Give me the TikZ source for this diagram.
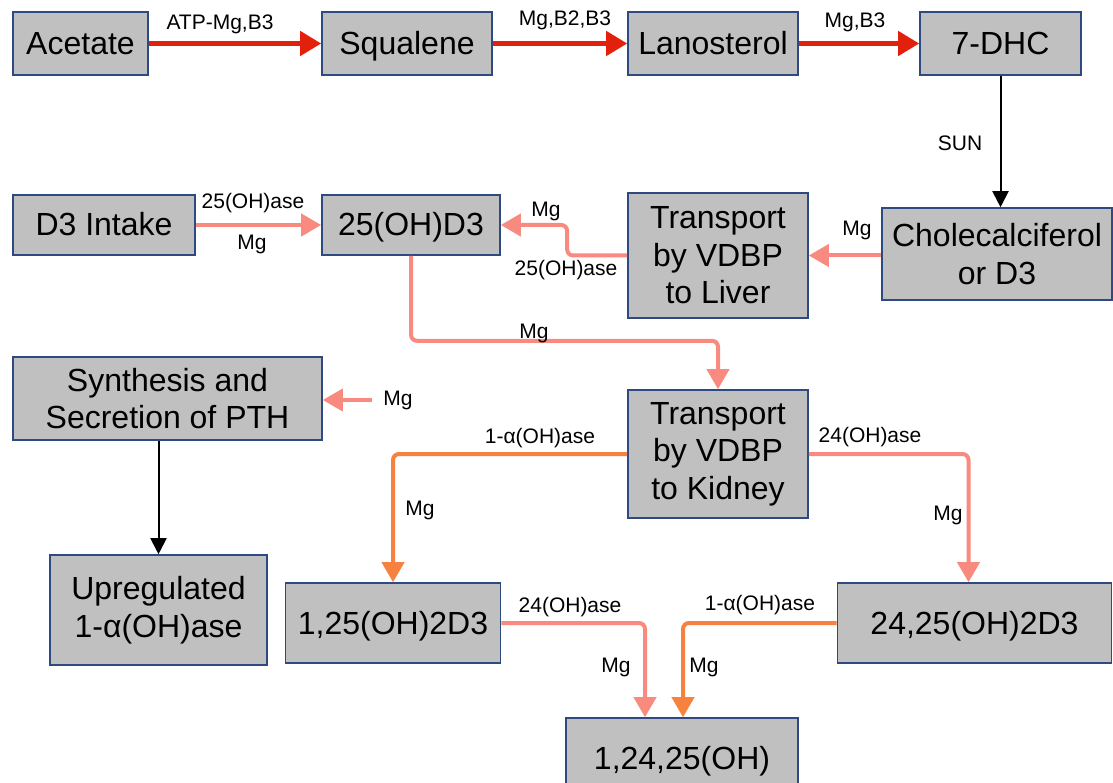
\documentclass[tikz,border=0pt]{standalone}
\usepackage{fontspec}
\setmainfont{Liberation Sans}
\usetikzlibrary{arrows.meta}
\definecolor{boxfill}{HTML}{C0C0C0}
\definecolor{boxline}{HTML}{2E4A80}
\definecolor{redarr}{HTML}{E3200B}
\definecolor{salmonarr}{HTML}{F88A80}
\definecolor{orangearr}{HTML}{F7823F}
\begin{document}
\begin{tikzpicture}[x=1pt,y=-1pt,
  box/.style={draw=boxline, fill=boxfill, line width=1.6pt, font=\fontsize{32}{37.5}\selectfont, align=center, inner sep=0pt},
  onebox/.style={box, text height=23pt, text depth=1pt},
  lab/.style={font=\fontsize{21}{25}\selectfont, inner sep=1pt},
  redarrow/.style={draw=redarr, line width=4.5pt, -{Triangle[length=21pt,width=24pt]}},
  salarrow/.style={draw=salmonarr, line width=4pt, rounded corners=6pt, -{Triangle[length=20pt,width=22pt]}},
  orarrow/.style={draw=orangearr, line width=4pt, rounded corners=6pt, -{Triangle[length=20pt,width=22pt]}},
  blkarrow/.style={draw=black, line width=2pt, -{Triangle[length=16pt,width=16pt]}}
]
\useasboundingbox (0,0) rectangle (1113,783);
\fill[white] (0,0) rectangle (1113,783);
% top row
\node[onebox, minimum width=135pt, minimum height=63pt] (acetate) at (80.5,43.5) {Acetate};
\node[onebox, minimum width=170pt, minimum height=63pt] (squalene) at (407,43.5) {Squalene};
\node[onebox, minimum width=170pt, minimum height=63pt] (lano) at (713,43.5) {Lanosterol};
\node[onebox, minimum width=161pt, minimum height=63pt] (dhc) at (1000.5,43.5) {7-DHC};
\draw[redarrow] (acetate) -- (squalene);
\draw[redarrow] (squalene) -- (lano);
\draw[redarrow] (lano) -- (dhc);
\node[lab] (l1) at (220,24) {ATP-Mg,B3};
\node[lab] (l2) at (565,20) {Mg,B2,B3};
\node[lab] (l3) at (855,22) {Mg,B3};
% second row
\node[box, minimum width=230pt, minimum height=92pt] (chole) at (997,254) {Cholecalciferol\\or D3};
\draw[blkarrow] (dhc.south) -- (chole.north -| dhc.south);
\node[lab] (sun) at (960,143) {SUN};
\node[box, minimum width=180pt, minimum height=125pt] (liver) at (718,255.5) {Transport\\by VDBP\\to Liver};
\node[onebox, minimum width=182pt, minimum height=60pt] (d3in) at (104,225) {D3 Intake};
\node[onebox, minimum width=178pt, minimum height=60pt] (oh25) at (411,225) {25(OH)D3};
\draw[salarrow] (chole.west |- liver.east) -- (liver.east);
\node[lab] (lmg1) at (857,230) {Mg};
\draw[salarrow] (liver.west) -- ++(-60,0) |- (oh25.east);
\node[lab] (lmg2) at (546,211) {Mg};
\node[lab] (lase1) at (566,270) {25(OH)ase};
\draw[salarrow] (d3in) -- (oh25);
\node[lab] (lase2) at (253,203) {25(OH)ase};
\node[lab] (lmg3) at (252,244) {Mg};
% third row
\node[box, minimum width=180pt, minimum height=128pt] (kidney) at (718,454) {Transport\\by VDBP\\to Kidney};
\draw[salarrow] (oh25.south) -- ++(0,85) -| (kidney.north);
\node[lab] (lmg4) at (534,333) {Mg};
\node[box, minimum width=309pt, minimum height=83pt] (pth) at (167.5,398.5) {Synthesis and\\Secretion of PTH};
\node[lab] (lmg5) at (398,400) {Mg};
\draw[salarrow] ([xshift=-10pt]lmg5.west) -- (pth.east |- lmg5.west);
\node[box, minimum width=217pt, minimum height=110pt] (upreg) at (158.5,610) {Upregulated\\1-α(OH)ase};
\draw[blkarrow] (pth.south -| upreg.north) -- (upreg.north);
% bottom
\node[onebox, minimum width=215pt, minimum height=80pt] (d125) at (393,623) {1,25(OH)2D3};
\node[onebox, minimum width=274pt, minimum height=80pt] (d2425) at (974.5,623) {24,25(OH)2D3};
\node[onebox, minimum width=232pt, minimum height=80pt] (d12425) at (682,758) {1,24,25(OH)};
\draw[orarrow] (kidney.west) -| (d125.north);
\node[lab] (lase3) at (540,438) {1-α(OH)ase};
\node[lab] (lmg6) at (420,510) {Mg};
\draw[salarrow] (kidney.east) -| ([xshift=-6pt]d2425.north);
\node[lab] (lase4) at (870,437) {24(OH)ase};
\node[lab] (lmg7) at (948,515) {Mg};
\draw[salarrow] (d125.east) -| ([xshift=-37pt]d12425.north);
\node[lab] (lase5) at (570,607) {24(OH)ase};
\node[lab] (lmg8) at (616,667) {Mg};
\draw[orarrow] (d2425.west) -| ([xshift=1pt]d12425.north);
\node[lab] (lase6) at (760,605) {1-α(OH)ase};
\node[lab] (lmg9) at (704,667) {Mg};
\end{tikzpicture}
\end{document}
